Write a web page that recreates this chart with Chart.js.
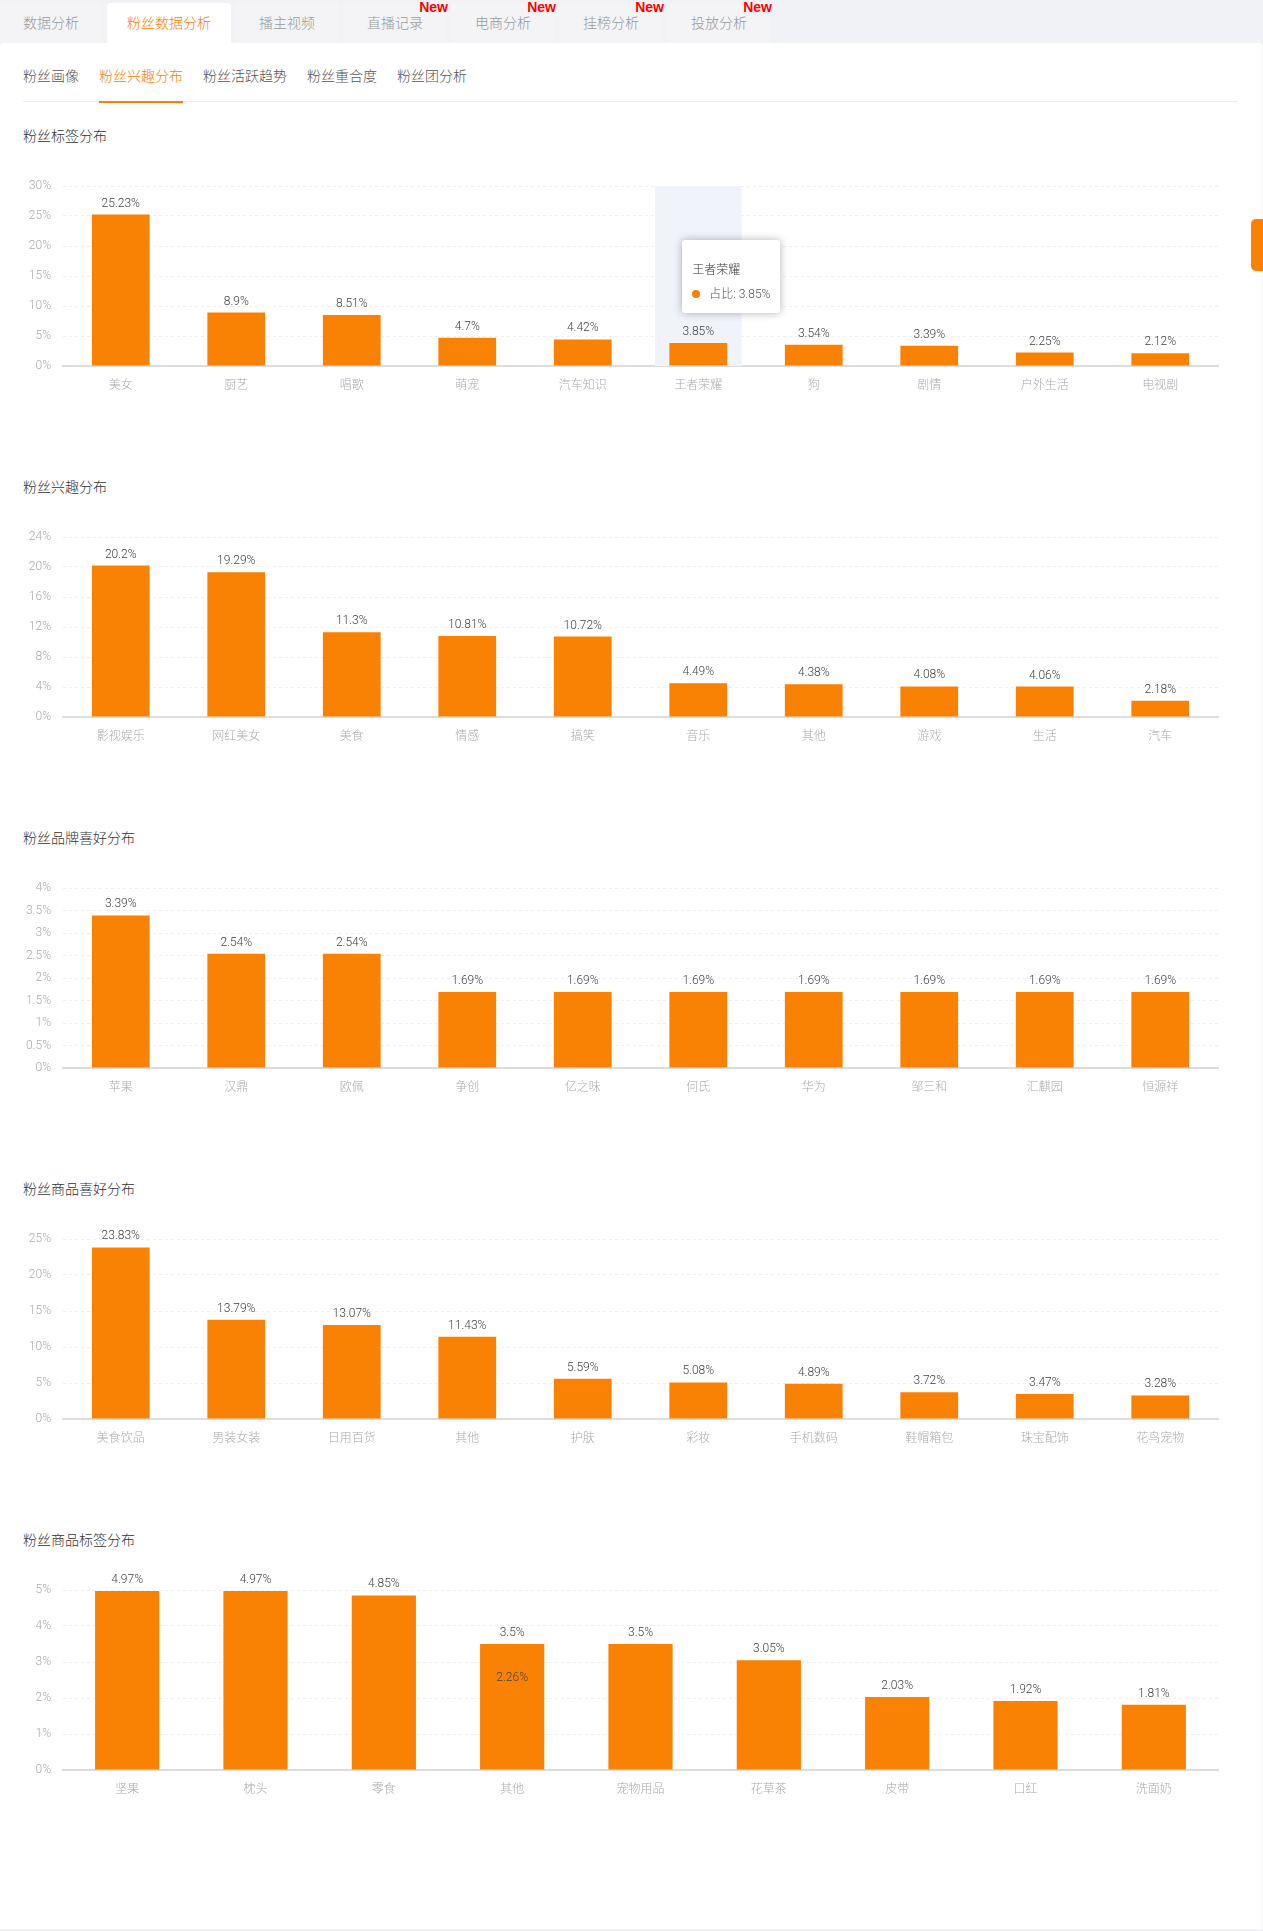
<!DOCTYPE html>
<html lang="zh-CN">
<head>
  <meta charset="UTF-8">
  <title>粉丝兴趣分布</title>
  <script src="https://cdn.jsdelivr.net/npm/chart.js@4"></script>
  <style>
    html, body { margin: 0; padding: 0; }
    body {
      position: relative;
      width: 1263px;
      height: 1931px;
      overflow: hidden;
      background: #f0f2f6;
      font-family: Roboto, "Noto Sans CJK SC", "Noto Sans", sans-serif;
      font-weight: 300;
    }
    .tab {
      position: absolute;
      top: 3px;
      height: 40px;
      width: 104px;
      line-height: 40px;
      text-align: center;
      font-size: 14px;
      color: #999;
      background: #f4f4f6;
      border-radius: 4px 4px 0 0;
    }
    .tab.on { width: 124px; background: #fff; color: #f98104; }
    .tab i {
      position: absolute;
      top: -3px;
      right: -1px;
      height: 14px;
      font: bold 14px/14px "Liberation Sans Narrow", "Liberation Sans", sans-serif;
      color: #f00;
    }
    .panel {
      position: absolute;
      left: 0;
      top: 43px;
      width: 1262px;
      height: 1886px;
      background: #fff;
      border-radius: 4px 4px 0 0;
    }
    .sub {
      position: absolute;
      top: 65px;
      height: 22px;
      line-height: 22px;
      font-size: 14px;
      color: #555;
    }
    .sub.on { color: #f98104; }
    .subline { position: absolute; left: 23px; top: 101px; width: 1215px; height: 1px; background: #eee; }
    .subon { position: absolute; left: 99px; top: 101px; width: 84px; height: 2px; background: #f98104; }
    .title {
      position: absolute;
      left: 23px;
      height: 22px;
      line-height: 22px;
      font-size: 14px;
      color: #333;
    }
    .chart { position: absolute; left: 23px; width: 1215px; height: 241px; }
    .handle {
      position: absolute;
      left: 1251px;
      top: 219px;
      width: 12px;
      height: 52px;
      background: #f98104;
      border-radius: 5px 0 0 5px;
    }
    #tip {
      position: absolute;
      display: none;
      width: 98px;
      height: 73px;
      background: #fff;
      border-radius: 3px;
      box-shadow: 0 0 8px rgba(0, 0, 0, .3);
      font-size: 12px;
      color: #555;
      z-index: 5;
    }
    #tip .t { position: absolute; left: 10px; top: 21px; line-height: 18px; color: #333; white-space: nowrap; }
    #tip .d { position: absolute; left: 10px; top: 50px; width: 8px; height: 8px; border-radius: 50%; background: #f98104; }
    #tip .v { position: absolute; left: 27px; top: 45px; line-height: 18px; white-space: nowrap; }
  </style>
</head>
<body>
  <div class="panel"></div>
  <div id="tabs"></div>
  <div id="subs"></div>
  <div class="subline"></div>
  <div class="subon"></div>
  <div class="handle"></div>
  <div id="charts"></div>
  <div id="tip"><span class="t"></span><span class="d"></span><span class="v"></span></div>

  <script>
    var tabNames = ['数据分析', '粉丝数据分析', '播主视频', '直播记录', '电商分析', '挂榜分析', '投放分析'];
    var subNames = ['粉丝画像', '粉丝兴趣分布', '粉丝活跃趋势', '粉丝重合度', '粉丝团分析'];

    var tagLabels = ['美女', '厨艺', '唱歌', '萌宠', '汽车知识', '王者荣耀', '狗', '剧情', '户外生活', '电视剧'];
    var tagValues = [25.23, 8.9, 8.51, 4.7, 4.42, 3.85, 3.54, 3.39, 2.25, 2.12];
    var tagTicks = [0, 5, 10, 15, 20, 25, 30];

    var interestLabels = ['影视娱乐', '网红美女', '美食', '情感', '搞笑', '音乐', '其他', '游戏', '生活', '汽车'];
    var interestValues = [20.2, 19.29, 11.3, 10.81, 10.72, 4.49, 4.38, 4.08, 4.06, 2.18];
    var interestTicks = [0, 4, 8, 12, 16, 20, 24];

    var brandLabels = ['苹果', '汉鼎', '欧佩', '争创', '亿之味', '何氏', '华为', '邹三和', '汇麒园', '恒源祥'];
    var brandValues = [3.39, 2.54, 2.54, 1.69, 1.69, 1.69, 1.69, 1.69, 1.69, 1.69];
    var brandTicks = [0, 0.5, 1, 1.5, 2, 2.5, 3, 3.5, 4];

    var goodsLabels = ['美食饮品', '男装女装', '日用百货', '其他', '护肤', '彩妆', '手机数码', '鞋帽箱包', '珠宝配饰', '花鸟宠物'];
    var goodsValues = [23.83, 13.79, 13.07, 11.43, 5.59, 5.08, 4.89, 3.72, 3.47, 3.28];
    var goodsTicks = [0, 5, 10, 15, 20, 25];

    var goodsTagLabels = ['坚果', '枕头', '零食', '其他', '宠物用品', '花草茶', '皮带', '口红', '洗面奶'];
    var goodsTagValues = [4.97, 4.97, 4.85, 3.5, 3.5, 3.05, 2.03, 1.92, 1.81];
    // the reference has a leftover label from an older value sitting on the 其他 bar
    var goodsTagStale = [null, null, null, 2.26, null, null, null, null, null];
    var goodsTagTicks = [0, 1, 2, 3, 4, 5];

    var ORANGE = '#f98104';
    var FONT = 'Roboto, "Noto Sans CJK SC", "Noto Sans", sans-serif';

    // tabs and sub tabs
    var tabLeft = [-1, 107, 235, 343, 451, 559, 667];
    tabNames.forEach(function(name, i) {
      var el = document.createElement('div');
      el.className = 'tab' + (i === 1 ? ' on' : '');
      el.style.left = tabLeft[i] + 'px';
      el.textContent = name;
      if (i >= 3) {
        var mark = document.createElement('i');
        mark.textContent = 'New';
        el.appendChild(mark);
      }
      document.getElementById('tabs').appendChild(el);
    });

    var subLeft = [23, 99, 203, 307, 397];
    subNames.forEach(function(name, i) {
      var el = document.createElement('div');
      el.className = 'sub' + (i === 1 ? ' on' : '');
      el.style.left = subLeft[i] + 'px';
      el.textContent = name;
      document.getElementById('subs').appendChild(el);
    });

    // value labels on top of the bars, and the grey band for the active category
    var barLabels = {
      id: 'barLabels',
      afterDatasetsDraw: function(chart) {
        var ctx = chart.ctx;
        ctx.save();
        ctx.font = '300 12px ' + FONT;
        ctx.fillStyle = '#444';
        ctx.textAlign = 'center';
        ctx.textBaseline = 'middle';
        chart.data.datasets.forEach(function(ds, d) {
          chart.getDatasetMeta(d).data.forEach(function(bar, i) {
            if (ds.data[i] === null) return;
            ctx.fillText(ds.data[i] + '%', bar.x, bar.y - 11);
          });
        });
        ctx.restore();
      }
    };
    var activeBand = {
      id: 'activeBand',
      beforeDatasetsDraw: function(chart) {
        var active = chart.tooltip.getActiveElements();
        if (!active.length) return;
        var area = chart.chartArea;
        var w = (area.right - area.left) / chart.data.labels.length * 0.75;
        chart.ctx.fillStyle = '#f0f3fa';
        chart.ctx.fillRect(active[0].element.x - w / 2, area.top, w, area.bottom - area.top);
      }
    };

    function showTip(ctx) {
      var tip = document.getElementById('tip');
      var t = ctx.tooltip;
      if (!t.dataPoints || !t.dataPoints.length) { tip.style.display = 'none'; return; }
      var point = t.dataPoints[0];
      var rect = ctx.chart.canvas.getBoundingClientRect();
      tip.querySelector('.t').textContent = point.label;
      tip.querySelector('.v').textContent = '占比: ' + point.raw + '%';
      tip.style.left = (rect.left + point.element.x - 16) + 'px';
      tip.style.top = (rect.top + point.element.y - 103) + 'px';
      tip.style.display = 'block';
    }

    function drawChart(top, title, labels, values, ticks, stale) {
      var head = document.createElement('div');
      head.className = 'title';
      head.style.top = (top - 40) + 'px';
      head.textContent = title;
      document.getElementById('charts').appendChild(head);

      var box = document.createElement('div');
      box.className = 'chart';
      box.style.top = top + 'px';
      var canvas = document.createElement('canvas');
      box.appendChild(canvas);
      document.getElementById('charts').appendChild(box);

      var datasets = [{ data: values, backgroundColor: ORANGE, hoverBackgroundColor: ORANGE }];
      if (stale) datasets.push({ data: stale, backgroundColor: 'transparent' });

      return new Chart(canvas, {
        type: 'bar',
        data: { labels: labels, datasets: datasets },
        plugins: [activeBand, barLabels],
        options: {
          responsive: true,
          maintainAspectRatio: false,
          animation: false,
          events: [],
          layout: { padding: { top: 21, right: 20, left: 0, bottom: 0 } },
          datasets: { bar: { grouped: false, categoryPercentage: 0.5, barPercentage: 1 } },
          plugins: {
            legend: { display: false },
            title: { display: false },
            tooltip: { enabled: false, external: showTip }
          },
          scales: {
            x: {
              grid: { display: false, drawTicks: false },
              border: { display: true, color: '#ddd', width: 2 },
              ticks: { color: '#aaa', font: { family: FONT, size: 12, weight: 300 }, padding: 13, maxRotation: 0, autoSkip: false },
              afterFit: function(scale) { scale.height = 40; }
            },
            y: {
              min: ticks[0],
              max: ticks[ticks.length - 1],
              afterBuildTicks: function(scale) {
                scale.ticks = ticks.map(function(v) { return { value: v }; });
              },
              grid: {
                drawTicks: false,
                color: function(c) { return c.tick.value === 0 ? 'transparent' : '#eee'; }
              },
              border: { display: false, dash: [3, 3] },
              ticks: {
                color: '#aaa',
                font: { family: FONT, size: 12, weight: 300 },
                padding: 12,
                callback: function(v) { return v + '%'; }
              },
              afterFit: function(scale) { scale.width = 40; }
            }
          }
        }
      });
    }

    var first = drawChart(165, '粉丝标签分布', tagLabels, tagValues, tagTicks);
    drawChart(516, '粉丝兴趣分布', interestLabels, interestValues, interestTicks);
    drawChart(867, '粉丝品牌喜好分布', brandLabels, brandValues, brandTicks);
    drawChart(1218, '粉丝商品喜好分布', goodsLabels, goodsValues, goodsTicks);
    drawChart(1569, '粉丝商品标签分布', goodsTagLabels, goodsTagValues, goodsTagTicks, goodsTagStale);

    // the reference was captured with the pointer over 王者荣耀
    first.tooltip.setActiveElements([{ datasetIndex: 0, index: 5 }], { x: 0, y: 0 });
    first.draw();
  </script>
</body>
</html>
